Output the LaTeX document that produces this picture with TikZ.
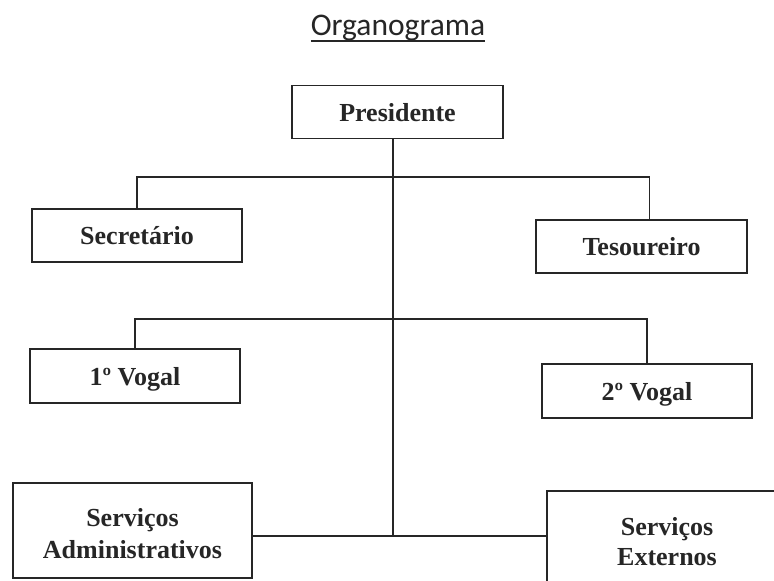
\documentclass[tikz,border=0pt]{standalone}
\usepackage{fontspec}
\setmainfont{Liberation Serif}
\newfontfamily\titlefont{Carlito}
\newcommand\titleul[1]{\setbox0\hbox{#1}\rlap{\raisebox{-7pt}{\rule{\wd0}{1.8pt}}}\box0}
\newcommand\twolines[4]{{\fontsize{26}{#3}\selectfont\raisebox{-#4}[\height][\depth]{\begin{tabular}{@{}c@{}}#1\\#2\end{tabular}}}}
\begin{document}
\begin{tikzpicture}[x=1pt,y=-1pt,
  orgbox/.style={draw=black!85, line width=1.5pt, rectangle, align=center,
    inner sep=0pt, text depth=0pt, font=\fontsize{26}{31}\selectfont\bfseries, text=black!85},
  link/.style={draw=black!85, line width=1.5pt}]
\useasboundingbox (0,0) rectangle (774,581);
\clip (0,0) rectangle (774,581);
\fill[white] (0,0) rectangle (774,581);

\node[font=\titlefont\fontsize{31.5}{36}\selectfont, text=black!85, anchor=base] (title) at (398,35) {\titleul{Organograma}};

\node[orgbox, minimum width=211pt, minimum height=53pt] (pres) at (397.5,112) {Presidente};
\node[orgbox, minimum width=210pt, minimum height=53pt] (sec) at (137,235.5) {Secretário};
\node[orgbox, minimum width=211pt, minimum height=53pt] (tes) at (641.5,246.5) {Tesoureiro};
\node[orgbox, minimum width=210pt, minimum height=54pt] (v1) at (135,376) {1º Vogal};
\node[orgbox, minimum width=210pt, minimum height=54pt] (v2) at (647,391) {2º Vogal};
\node[orgbox, text depth=, minimum width=239pt, minimum height=95pt] (adm) at (132.5,530.5) {\twolines{Serviços}{Administrativos}{32pt}{6pt}};
\node[orgbox, text depth=, minimum width=240pt, minimum height=95pt] (ext) at (667,538.5) {\twolines{Serviços}{Externos}{30pt}{5.5pt}};

\coordinate (hub1) at (393,177);
\coordinate (hub2) at (393,319);
\coordinate (hub3) at (393,536);

\draw[link] (pres.south -| hub3) -- (hub3);
\draw[link] (sec.north) |- (hub1) -| ([xshift=8pt]tes.north);
\draw[link] (v1.north) |- (hub2) -| (v2.north);
\draw[link] (adm.east |- hub3) -- (ext.west |- hub3);
\end{tikzpicture}
\end{document}
